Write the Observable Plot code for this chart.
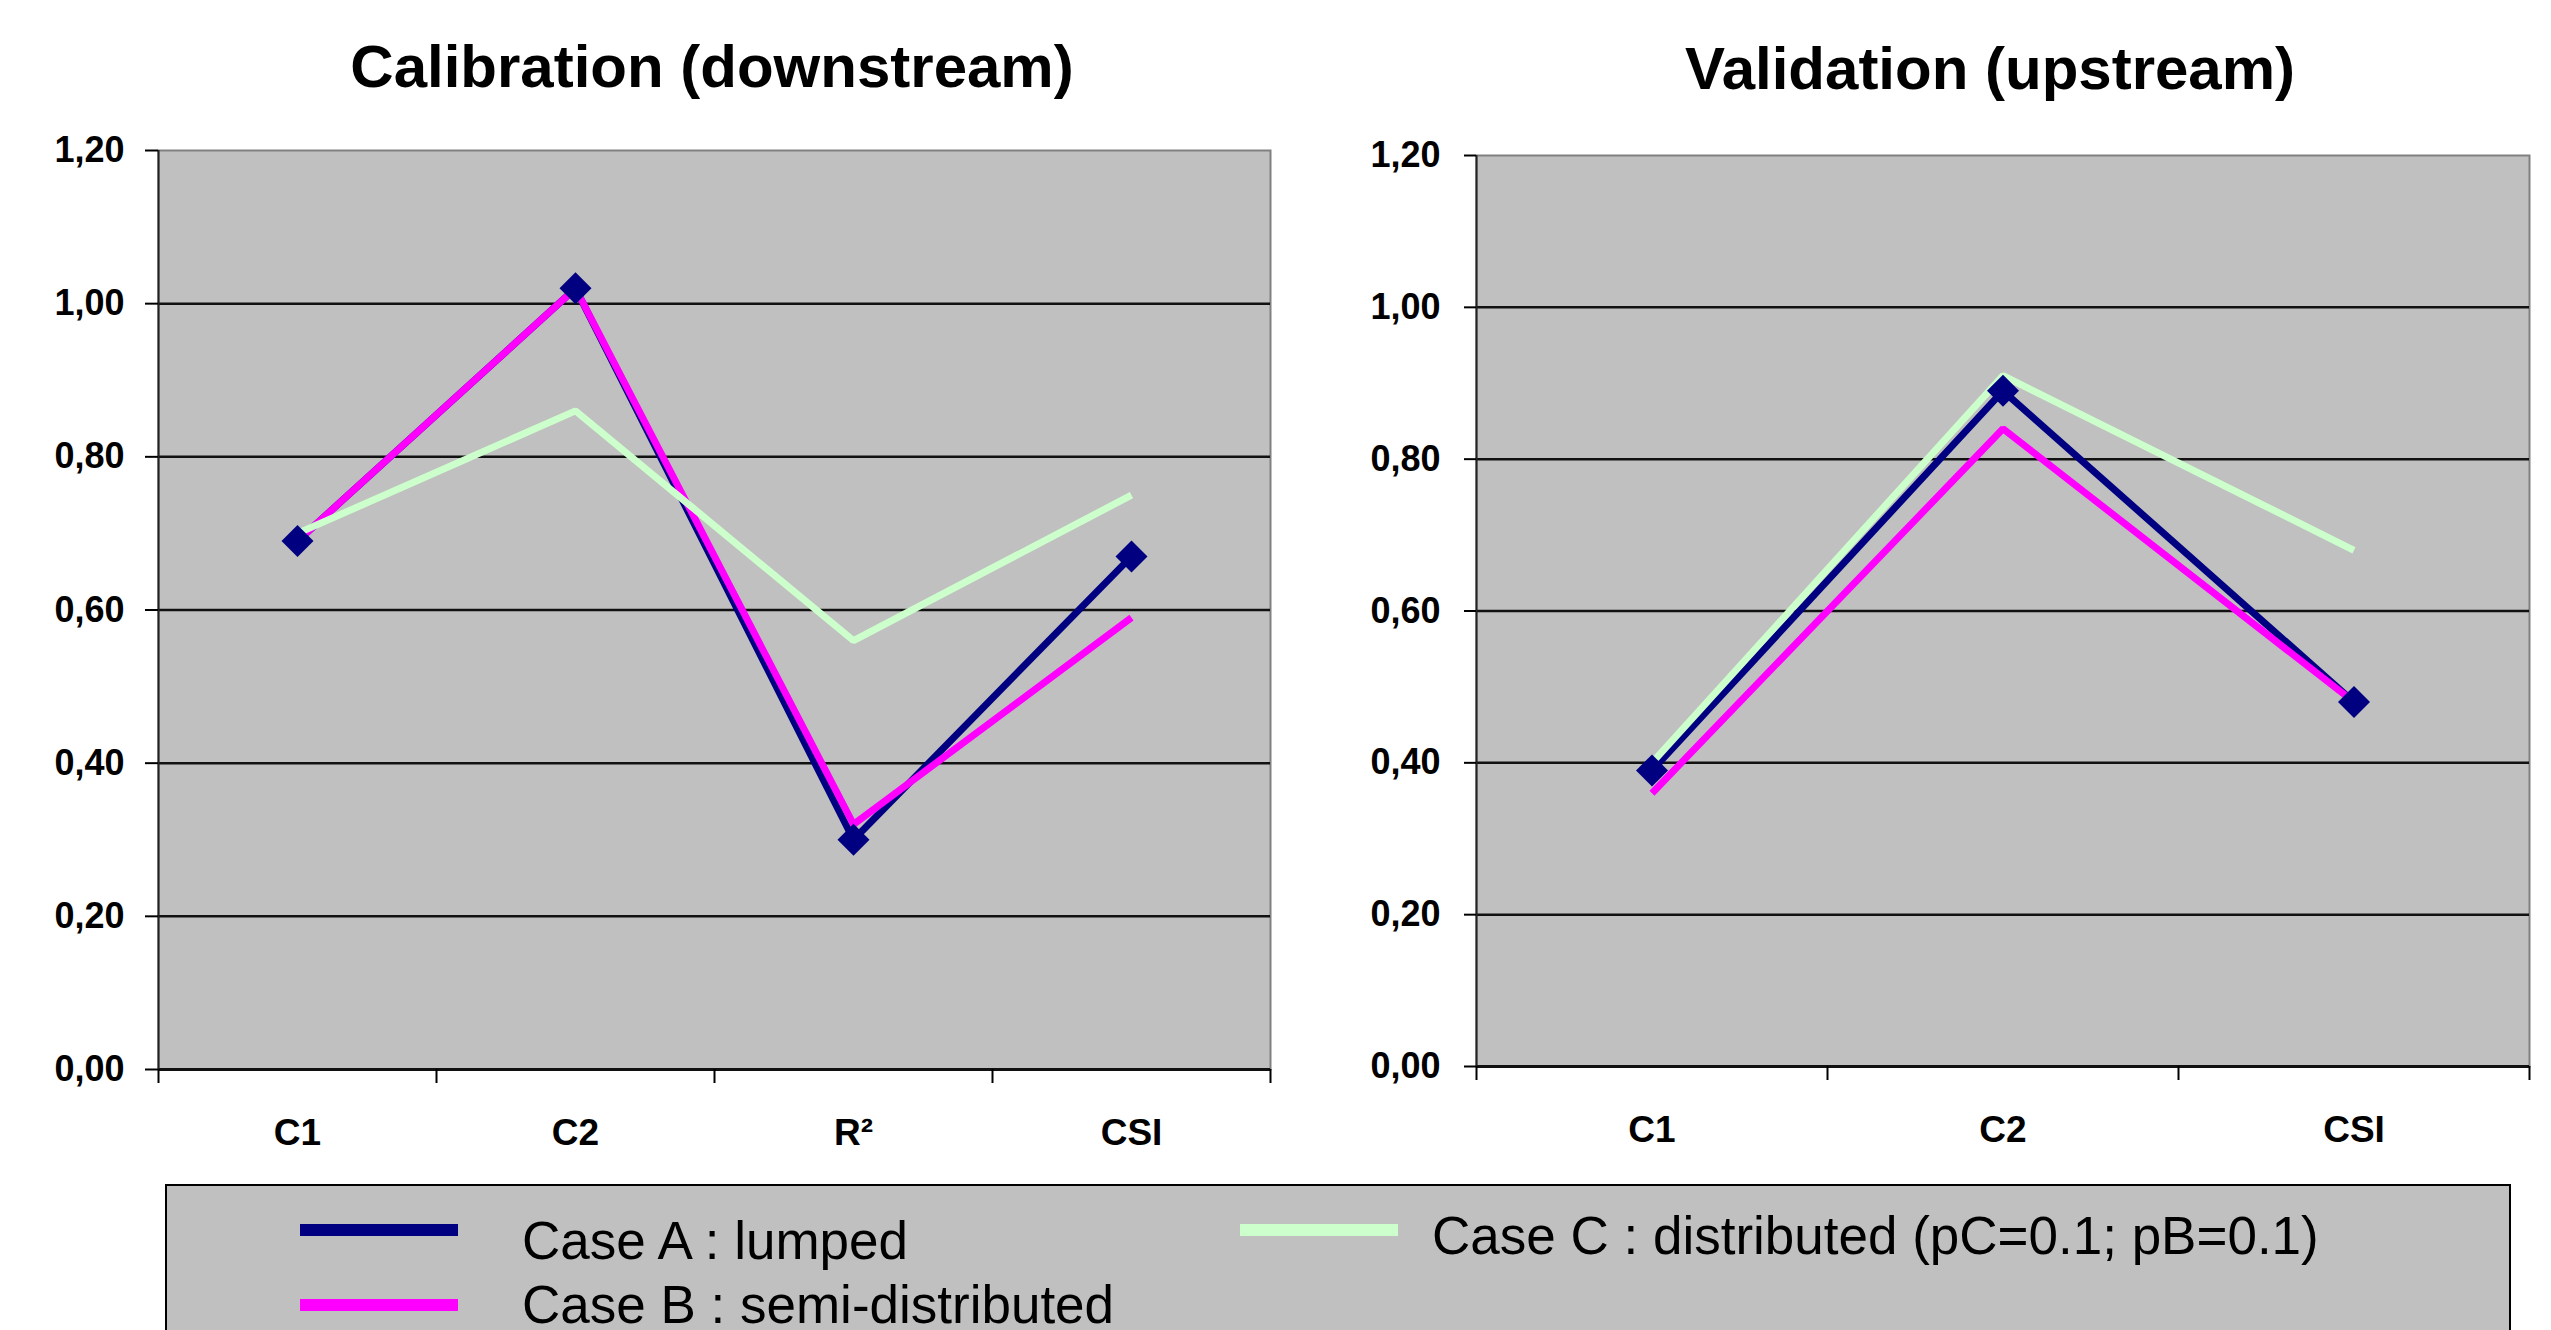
<!DOCTYPE html>
<html>
<head>
<meta charset="utf-8">
<script src="https://cdn.jsdelivr.net/npm/d3@7"></script>
<script src="https://cdn.jsdelivr.net/npm/@observablehq/plot@0.6"></script>
<style>
  html, body { margin: 0; padding: 0; background: #ffffff; }
  #page { position: relative; width: 2551px; height: 1330px; overflow: hidden; background: #ffffff;
          font-family: "Liberation Sans", Arial, sans-serif; }
  .title { position: absolute; font-weight: bold; font-size: 60px; line-height: 60px; white-space: nowrap;
           transform: translateX(-50%); color: #000; }
  .panel { position: absolute; top: 0; }
  #legend { position: absolute; left: 165px; top: 1184px; width: 2346px; height: 220px;
            background: #c0c0c0; border: 2px solid #000; box-sizing: border-box; }
  .swatch { position: absolute; height: 12px; width: 158px; }
  .ltext { position: absolute; font-size: 53px; line-height: 53px; white-space: nowrap; color: #000; }
</style>
</head>
<body>
<div id="page"></div>
<script>
// ---- data ----
const calCategories = ["C1", "C2", "R²", "CSI"];
const calCaseA = [0.69, 1.02, 0.30, 0.67];
const calCaseB = [0.69, 1.02, 0.32, 0.59];
const calCaseC = [0.70, 0.86, 0.56, 0.75];

const valCategories = ["C1", "C2", "CSI"];
const valCaseA = [0.39, 0.89, 0.48];
const valCaseB = [0.36, 0.84, 0.48];
const valCaseC = [0.40, 0.91, 0.68];

const yTicks = [0, 0.2, 0.4, 0.6, 0.8, 1.0, 1.2];
const yTickLabels = ["0,00", "0,20", "0,40", "0,60", "0,80", "1,00", "1,20"];

const seriesNames = ["Case A : lumped", "Case B : semi-distributed", "Case C : distributed (pC=0.1; pB=0.1)"];
const seriesColors = ["#000080", "#ff00ff", "#ccffcc"];

const titles = ["Calibration (downstream)", "Validation (upstream)"];

// ---- helpers ----
const diamond = {
  draw(ctx, size) {
    const h = Math.sqrt(size / Math.PI);
    ctx.moveTo(0, -h); ctx.lineTo(h, 0); ctx.lineTo(0, h); ctx.lineTo(-h, 0); ctx.closePath();
  }
};
const labelFor = new Map(yTicks.map((v, i) => [Math.round(v * 100), yTickLabels[i]]));

function tidy(cats, seriesArrays) {
  const rows = [];
  seriesArrays.forEach((vals, s) => {
    vals.forEach((v, i) => rows.push({series: seriesNames[s], idx: i, cat: cats[i], value: v}));
  });
  return rows;
}

function panel(cats, seriesArrays, layout) {
  const data = tidy(cats, seriesArrays);
  const n = cats.length;
  const xc = d => d.idx + 0.5;
  const marks = [
    Plot.frame({fill: "#c0c0c0", stroke: "#808080", strokeWidth: 2}),
    Plot.ruleY(yTicks.slice(1, -1), {stroke: "#111", strokeWidth: 2.5}),
    Plot.ruleY([0], {stroke: "#111", strokeWidth: 3}),
    Plot.ruleX([0], {stroke: "#222", strokeWidth: 2}),
    Plot.axisY({ticks: yTicks, tickFormat: v => labelFor.get(Math.round(v * 100)), label: null,
                tickSize: layout.ytick, tickPadding: layout.ypad, fontSize: 36, stroke: "#000", strokeWidth: 2}),
    Plot.axisX({ticks: d3.range(n + 1), tickFormat: () => "", label: null, tickSize: 14, stroke: "#000", strokeWidth: 2}),
    Plot.axisX({ticks: cats.map((c, i) => i + 0.5), tickFormat: v => cats[Math.round(v - 0.5)], label: null,
                tickSize: 0, tickPadding: 49, fontSize: 37})
  ];
  seriesNames.forEach((name, s) => {
    marks.push(Plot.line(data.filter(d => d.series === name),
      {x: xc, y: "value", stroke: seriesColors[s], strokeWidth: 7, strokeLinejoin: "miter", strokeLinecap: "butt"}));
  });
  marks.push(Plot.dot(data.filter(d => d.series === seriesNames[0]),
    {x: xc, y: "value", symbol: diamond, r: 16, fill: seriesColors[0], stroke: "none"}));

  return Plot.plot({
    width: layout.width, height: layout.height,
    marginLeft: layout.ml, marginRight: layout.mr, marginTop: layout.mt, marginBottom: layout.mb,
    x: {domain: [0, n], axis: null, label: null},
    y: {domain: [0, 1.2], axis: null, label: null},
    style: {fontFamily: '"Liberation Sans", Arial, sans-serif', fontWeight: "bold", fontSize: "36px",
            background: "transparent", overflow: "visible", color: "#000"},
    marks
  });
}

const page = document.getElementById("page");

const left = panel(calCategories, [calCaseA, calCaseB, calCaseC],
  {width: 1300, height: 1180, ml: 158, mr: 30, mt: 150, mb: 111, ytick: 13, ypad: 21});
left.classList.add("panel"); left.style.left = "0px";
page.appendChild(left);

const right = panel(valCategories, [valCaseA, valCaseB, valCaseC],
  {width: 1251, height: 1180, ml: 176, mr: 22, mt: 155, mb: 114, ytick: 12, ypad: 24});
right.classList.add("panel"); right.style.left = "1300px";
page.appendChild(right);

// titles
[[titles[0], 712, 37], [titles[1], 1990, 39]].forEach(([t, cx, top]) => {
  const el = document.createElement("div");
  el.className = "title"; el.textContent = t;
  el.style.left = cx + "px"; el.style.top = top + "px";
  page.appendChild(el);
});

// legend
const legend = document.createElement("div");
legend.id = "legend";
page.appendChild(legend);
const legendPos = [
  {sx: 300, sy: 1224, tx: 522, ty: 1214},
  {sx: 300, sy: 1299, tx: 522, ty: 1278},
  {sx: 1240, sy: 1224, tx: 1432, ty: 1209}
];
seriesNames.forEach((name, s) => {
  const p = legendPos[s];
  const sw = document.createElement("div");
  sw.className = "swatch"; sw.style.background = seriesColors[s];
  sw.style.left = p.sx + "px"; sw.style.top = p.sy + "px";
  page.appendChild(sw);
  const tx = document.createElement("div");
  tx.className = "ltext"; tx.textContent = name;
  tx.style.left = p.tx + "px"; tx.style.top = p.ty + "px";
  page.appendChild(tx);
});
</script>
</body>
</html>
